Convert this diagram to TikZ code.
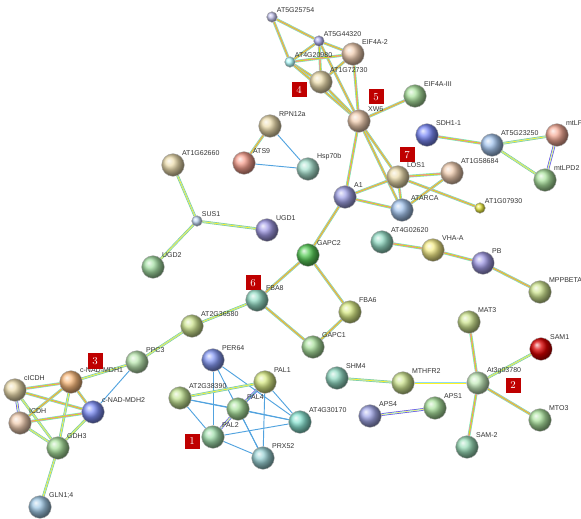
\documentclass[tikz,border=0pt]{standalone}
\usepackage{fontspec}
\setsansfont{Liberation Sans}
\usetikzlibrary{backgrounds}

\definecolor{peach}{RGB}{232,178,134}
\definecolor{tan}{RGB}{226,202,130}
\definecolor{lav}{RGB}{165,165,228}
\definecolor{leaf}{RGB}{125,210,105}
\definecolor{lime}{RGB}{180,214,85}
\definecolor{teal}{RGB}{90,200,165}
\definecolor{sky}{RGB}{115,165,228}
\definecolor{grape}{RGB}{110,100,215}

\begin{document}
\begin{tikzpicture}[
    x=0.3mm, y=-0.3mm,
    protein/.style={circle, shading=ball, draw=black!35, line width=0.3pt, minimum size=6.8mm, inner sep=0pt},
    ball/.style={ball color=#1!65},
    tiny/.style={minimum size=3.2mm},
    every label/.style={font=\sffamily\fontsize{6}{7}\selectfont, text=black!80, inner sep=0.6pt},
    link/.style={preaction={draw=green!55!cyan!60, line width=2.4pt}, draw=magenta!50, double=yellow!80!green, double distance=0.7pt, line width=0.45pt},
    linkg/.style={preaction={draw=green!60!black!50, line width=2.2pt}, draw=cyan!45, double=yellow!85, double distance=0.6pt, line width=0.4pt},
    linkb/.style={preaction={draw=blue!65!violet!80, line width=2.2pt}, draw=cyan!40, double=yellow!60, double distance=0.5pt, line width=0.4pt},
    assoc/.style={draw=cyan!70!blue!70, line width=0.8pt},
    badge/.style={fill=red!75!black, text=white, minimum size=4.5mm, inner sep=0pt, font=\small}
]
\useasboundingbox (0,0) rectangle (581,519);

% translation group
\node[protein, tiny, ball=lav, label=45:AT5G25754] (at5g25754) at (272,17) {};
\node[protein, tiny, ball=lav!80!blue, label=45:AT5G44320] (at5g44320) at (319,41) {};
\node[protein, ball=peach, label=45:EIF4A-2] (eif4a2) at (353,54) {};
\node[protein, tiny, ball=cyan!45!white, label=45:AT4G20980] (at4g20980) at (290,62) {};
\node[protein, ball=tan, label=45:AT1G72730] (at1g72730) at (321,82) {};
\node[protein, ball=peach, label=45:XW6] (xw6) at (359,121) {};
\node[protein, ball=leaf, label=45:EIF4A-III] (eif4aiii) at (415,96) {};

% proteasome / chaperone
\node[protein, ball=tan, label=45:RPN12a] (rpn12a) at (270,126) {};
\node[protein, ball=red!40!peach, label=45:ATS9] (ats9) at (244,163) {};
\node[protein, ball=teal!80!white, label=45:Hsp70b] (hsp70b) at (308,169) {};

% sucrose
\node[protein, ball=tan, label=45:AT1G62660] (at1g62660) at (173,165) {};
\node[protein, tiny, ball=sky!70!white, label=45:SUS1] (sus1) at (197,221) {};
\node[protein, ball=grape, label=45:UGD1] (ugd1) at (267,230) {};
\node[protein, ball=leaf!80!teal, label=45:UGD2] (ugd2) at (153,267) {};

% mitochondria
\node[protein, ball=blue!55!sky, label=45:SDH1-1] (sdh11) at (427,135) {};
\node[protein, ball=sky, label=45:AT5G23250] (at5g23250) at (492,145) {};
\node[protein, ball=red!30!peach, label=45:mtLPD1] (mtlpd1) at (557,135) {};
\node[protein, ball=leaf, label=45:mtLPD2] (mtlpd2) at (545,180) {};

% glycolysis
\node[protein, ball=tan, label=45:LOS1] (los1) at (398,177) {};
\node[protein, ball=peach, label=45:AT1G58684] (at1g58684) at (452,173) {};
\node[protein, ball=sky, label=45:ATARCA] (atarca) at (402,210) {};
\node[protein, tiny, ball=yellow!70!olive, label=45:AT1G07930] (at1g07930) at (480,208) {};
\node[protein, ball=grape!80!sky, label=45:A1] (a1) at (345,197) {};
\node[protein, ball=green!70!black, label=45:GAPC2] (gapc2) at (308,255) {};
\node[protein, ball=teal, label=45:FBA8] (fba8) at (257,300) {};
\node[protein, ball=lime!80!yellow, label=45:FBA6] (fba6) at (350,312) {};
\node[protein, ball=leaf, label=45:GAPC1] (gapc1) at (313,347) {};
\node[protein, ball=lime, label=45:AT2G36580] (at2g36580) at (192,326) {};
\node[protein, ball=leaf!80!white, label=45:PPC3] (ppc3) at (137,362) {};

% vacuolar ATPase
\node[protein, ball=teal, label=45:AT4G02620] (at4g02620) at (382,242) {};
\node[protein, ball=yellow!45!tan, label=45:VHA-A] (vhaa) at (433,250) {};
\node[protein, ball=grape, label=45:PB] (pb) at (483,263) {};
\node[protein, ball=lime, label=45:MPPBETA] (mppbeta) at (540,292) {};

% TCA / nitrogen
\node[protein, ball=orange!60!peach, label=45:c-NAD-MDH1] (cnadmdh1) at (71,382) {};
\node[protein, ball=tan, label=45:cICDH] (cicdh) at (15,390) {};
\node[protein, ball=peach, label=45:ICDH] (icdh) at (20,423) {};
\node[protein, ball=blue!50!sky, label=45:c-NAD-MDH2] (cnadmdh2) at (93,412) {};
\node[protein, ball=leaf, label=45:GDH3] (gdh3) at (58,448) {};
\node[protein, ball=sky!80!teal, label=45:GLN1;4] (gln14) at (40,507) {};

% phenylpropanoid
\node[protein, ball=blue!40!sky, label=45:PER64] (per64) at (213,360) {};
\node[protein, ball=lime!80!yellow, label=45:PAL1] (pal1) at (265,382) {};
\node[protein, ball=lime!70!leaf, label=45:AT2G38390] (at2g38390) at (180,398) {};
\node[protein, ball=leaf, label=45:PAL4] (pal4) at (238,409) {};
\node[protein, ball=leaf!60!teal, label=45:PAL2] (pal2) at (213,437) {};
\node[protein, ball=teal!80!cyan, label=45:AT4G30170] (at4g30170) at (300,422) {};
\node[protein, ball=teal!60!sky, label=45:PRX52] (prx52) at (263,458) {};

% one-carbon / sulfur
\node[protein, ball=teal, label=45:SHM4] (shm4) at (337,378) {};
\node[protein, ball=lime, label=45:MTHFR2] (mthfr2) at (403,383) {};
\node[protein, ball=leaf!70!white, label=45:At3g03780] (at3g03780) at (478,383) {};
\node[protein, ball=lime, label=45:MAT3] (mat3) at (469,322) {};
\node[protein, ball color=red!85!black, label=45:SAM1] (sam1) at (541,349) {};
\node[protein, ball=leaf, label=45:MTO3] (mto3) at (540,420) {};
\node[protein, ball=teal!70!leaf, label=45:SAM-2] (sam2) at (467,447) {};
\node[protein, ball=leaf, label=45:APS1] (aps1) at (435,408) {};
\node[protein, ball=grape!70!sky, label=45:APS4] (aps4) at (370,416) {};

% numbered badges
\node[badge] (b1) at (192,441) {1};
\node[badge] (b2) at (513,385) {2};
\node[badge] (b3) at (95,361) {3};
\node[badge] (b4) at (299,90) {4};
\node[badge] (b5) at (376,97) {5};
\node[badge] (b6) at (253,283) {6};
\node[badge] (b7) at (407,155) {7};

\begin{scope}[on background layer]
% translation group
\draw[link] (at5g25754) -- (at5g44320);
\draw[link] (at5g25754) -- (at4g20980);
\draw[link] (at5g44320) -- (eif4a2);
\draw[link] (at5g44320) -- (at4g20980);
\draw[link] (at5g44320) -- (at1g72730);
\draw[link] (at5g44320) -- (xw6);
\draw[link] (at4g20980) -- (eif4a2);
\draw[link] (at4g20980) -- (at1g72730);
\draw[link] (at4g20980) -- (xw6);
\draw[link] (at1g72730) -- (eif4a2);
\draw[link] (at1g72730) -- (xw6);
\draw[link] (eif4a2) -- (xw6);
\draw[link] (xw6) -- (eif4aiii);
\draw[link] (xw6) -- (a1);
\draw[link] (xw6) -- (los1);
\draw[link] (xw6) -- (atarca);
% proteasome / chaperone
\draw[link] (rpn12a) -- (ats9);
\draw[assoc] (rpn12a) -- (hsp70b);
\draw[assoc] (ats9) -- (hsp70b);
% sucrose
\draw[linkg] (at1g62660) -- (sus1);
\draw[linkg] (sus1) -- (ugd1);
\draw[linkg] (sus1) -- (ugd2);
% mitochondria
\draw[link] (sdh11) -- (at5g23250);
\draw[linkg] (at5g23250) -- (mtlpd1);
\draw[linkg] (at5g23250) -- (mtlpd2);
\draw[linkb] (mtlpd1) -- (mtlpd2);
% glycolysis
\draw[link] (a1) -- (los1);
\draw[link] (a1) -- (atarca);
\draw[link] (los1) -- (atarca);
\draw[link] (los1) -- (at1g58684);
\draw[link] (los1) -- (at1g07930);
\draw[link] (atarca) -- (at1g58684);
\draw[link] (a1) -- (gapc2);
\draw[link] (gapc2) -- (fba8);
\draw[link] (gapc2) -- (fba6);
\draw[link] (fba8) -- (gapc1);
\draw[link] (fba6) -- (gapc1);
\draw[linkg] (fba8) -- (at2g36580);
\draw[linkg] (at2g36580) -- (ppc3);
\draw[linkg] (ppc3) -- (cnadmdh1);
\draw[assoc] (ppc3) -- (cnadmdh2);
% vacuolar ATPase
\draw[link] (at4g02620) -- (vhaa);
\draw[link] (vhaa) -- (pb);
\draw[link] (pb) -- (mppbeta);
% TCA / nitrogen
\draw[link] (cicdh) -- (cnadmdh1);
\draw[linkb] (cicdh) -- (icdh);
\draw[link] (cicdh) -- (cnadmdh2);
\draw[linkg] (cicdh) -- (gdh3);
\draw[link] (cnadmdh1) -- (icdh);
\draw[link] (cnadmdh1) -- (cnadmdh2);
\draw[linkg] (cnadmdh1) -- (gdh3);
\draw[link] (icdh) -- (cnadmdh2);
\draw[linkg] (icdh) -- (gdh3);
\draw[linkg] (cnadmdh2) -- (gdh3);
\draw[linkg] (gdh3) -- (gln14);
% phenylpropanoid
\draw[assoc] (per64) -- (pal2);
\draw[assoc] (per64) -- (prx52);
\draw[assoc] (per64) -- (at4g30170);
\draw[linkg] (at2g38390) -- (pal1);
\draw[assoc] (at2g38390) -- (pal4);
\draw[assoc] (at2g38390) -- (pal2);
\draw[assoc] (at2g38390) -- (at4g30170);
\draw[linkb] (pal1) -- (pal4);
\draw[assoc] (pal1) -- (pal2);
\draw[assoc] (pal1) -- (at4g30170);
\draw[assoc] (pal1) -- (prx52);
\draw[linkb] (pal4) -- (pal2);
\draw[assoc] (pal4) -- (at4g30170);
\draw[assoc] (pal4) -- (prx52);
\draw[assoc] (pal2) -- (at4g30170);
\draw[assoc] (pal2) -- (prx52);
% one-carbon / sulfur
\draw[linkg] (shm4) -- (mthfr2);
\draw[linkg] (mthfr2) -- (at3g03780);
\draw[link] (at3g03780) -- (mat3);
\draw[linkg] (at3g03780) -- (sam1);
\draw[link] (at3g03780) -- (mto3);
\draw[link] (at3g03780) -- (sam2);
\draw[linkb] (aps4) -- (aps1);
\end{scope}

\end{tikzpicture}
\end{document}
